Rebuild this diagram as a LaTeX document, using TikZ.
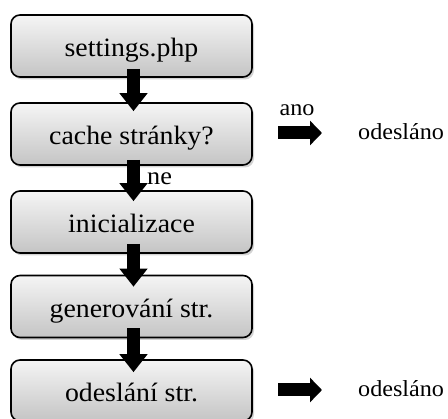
\documentclass[tikz,border=0pt]{standalone}
\usepackage{fontspec}
\setmainfont{Liberation Serif}
\newfontfamily\wideserif[FakeStretch=1.05]{Liberation Serif}
\usetikzlibrary{shadows,arrows.meta}
\tikzset{
  stepbox/.style={draw=black, line width=1.6pt, rounded corners=9pt,
    top color=white!96!black, bottom color=white!77!black,
    minimum width=241pt, minimum height=62pt, inner sep=0pt,
    text height=22pt, text depth=0pt,
    font=\wideserif\fontsize{26.5}{30}\selectfont,
    drop shadow={opacity=0.35, shadow xshift=2pt, shadow yshift=-2.5pt}},
  flow/.style={line width=13pt, draw=black,
    -{Triangle[width=27pt,length=18pt]}},
  branch/.style={line width=13pt, draw=black,
    -{Triangle[width=24pt,length=12pt]}},
  side/.style={font=\wideserif\fontsize{23}{27}\selectfont, inner sep=0pt}
}
\begin{document}
\begin{tikzpicture}[x=1pt,y=-1pt]
\useasboundingbox (0,0) rectangle (448,419);
\begin{scope}
\clip (0,0) rectangle (448,419);
\node[stepbox] (b1) at (131.5,46) {settings.php};
\node[stepbox] (b2) at (131.5,134) {cache stránky?};
\node[stepbox] (b3) at (131.5,222) {inicializace};
\node[stepbox] (b4) at (131.5,306.5) {generování str.};
\node[stepbox, minimum height=61pt] (b5) at (131.5,390.5) {odeslání str.};
\end{scope}
% vertical flow arrows between the steps
\draw[flow] ([xshift=2pt,yshift=9pt]b1.south) -- ([xshift=2pt,yshift=-9pt]b2.north);
\draw[flow] ([xshift=2pt,yshift=6pt]b2.south) -- ([xshift=2pt,yshift=-11pt]b3.north);
\draw[flow] ([xshift=2pt,yshift=10pt]b3.south) -- ([xshift=2pt,yshift=-12pt]b4.north);
\draw[flow] ([xshift=2pt,yshift=10pt]b4.south) -- ([xshift=2pt,yshift=-13pt]b5.north);
\node[side, anchor=base west, font=\wideserif\fontsize{25}{28}\selectfont] (ne) at (147,185) {ne};
% side branches
\coordinate (h1s) at (278,133);
\coordinate (h1e) at (322,133);
\coordinate (h2s) at (278,390);
\coordinate (h2e) at (322,390);
\draw[branch] (h1s) -- (h1e);
\draw[branch] (h2s) -- (h2e);
\node[side, anchor=base] (ano) at (297,116) {ano};
\node[side, anchor=base west] (o1) at (358,140) {odesláno};
\node[side, anchor=base west] (o2) at (358,397) {odesláno};
\end{tikzpicture}
\end{document}
